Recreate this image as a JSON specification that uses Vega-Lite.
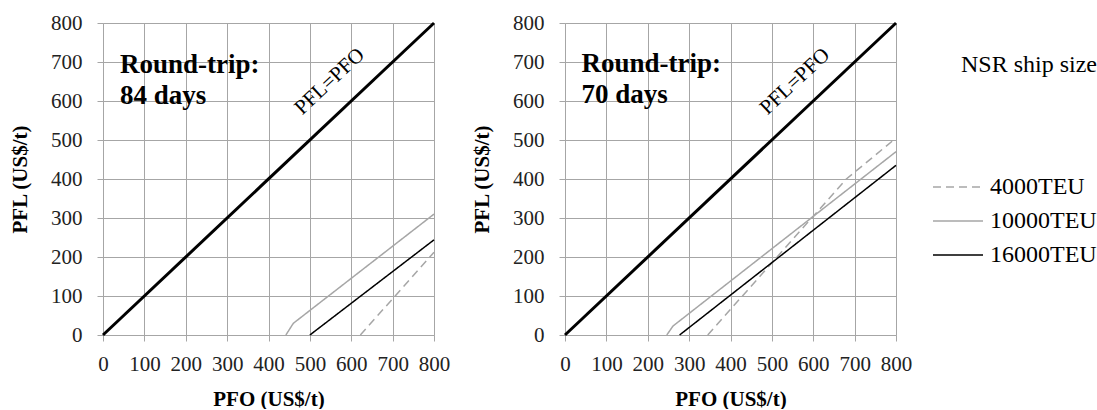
{
  "$schema": "https://vega.github.io/schema/vega-lite/v6.json",
  "padding": {"left": 9, "top": 12, "right": 0, "bottom": 0},
  "bounds": "flush",
  "spacing": 131,
  "config": {
    "font": "Liberation Serif",
    "view": {"stroke": null},
    "axis": {
      "labelFont": "Liberation Serif", "labelFontSize": 21, "labelColor": "#222222",
      "titleFont": "Liberation Serif", "titleFontSize": 21, "titleFontWeight": "bold", "titleColor": "#000000",
      "gridColor": "#a6a6a6", "domainColor": "#a6a6a6", "tickColor": "#a6a6a6",
      "tickSize": 6, "gridWidth": 1, "domainWidth": 1, "labelOverlap": false
    },
    "axisX": {"labelPadding": 12, "titlePadding": 14, "labelFlush": false},
    "axisY": {"labelPadding": 15, "titlePadding": 20, "labelFlush": false},
    "legend": {
      "orient": "none", "legendX": 843, "legendY": 30,
      "titleFont": "Liberation Serif", "titleFontSize": 24, "titleFontWeight": "normal", "titleColor": "#000000",
      "titleAnchor": "end", "titlePadding": 98,
      "labelFont": "Liberation Serif", "labelFontSize": 24, "labelColor": "#000000",
      "symbolType": "M-2.5,0H2.5", "symbolSize": 400, "symbolStrokeWidth": 1.5,
      "labelOffset": 20, "rowPadding": 10
    }
  },
  "datasets": {
    "left": [
      {"size": "4000TEU", "x": 622, "y": 0},
      {"size": "4000TEU", "x": 800, "y": 212},
      {"size": "10000TEU", "x": 442, "y": 0},
      {"size": "10000TEU", "x": 460, "y": 30},
      {"size": "10000TEU", "x": 800, "y": 310},
      {"size": "16000TEU", "x": 500, "y": 0},
      {"size": "16000TEU", "x": 800, "y": 244}
    ],
    "right": [
      {"size": "4000TEU", "x": 345, "y": 0},
      {"size": "4000TEU", "x": 680, "y": 400},
      {"size": "4000TEU", "x": 800, "y": 505},
      {"size": "10000TEU", "x": 246, "y": 0},
      {"size": "10000TEU", "x": 261, "y": 23},
      {"size": "10000TEU", "x": 800, "y": 470},
      {"size": "16000TEU", "x": 277, "y": 0},
      {"size": "16000TEU", "x": 800, "y": 435}
    ],
    "diag": [{"x": 0, "y": 0}, {"x": 800, "y": 800}],
    "one": [{"k": 1}]
  },
  "hconcat": [
    {
      "width": 331, "height": 312,
      "layer": [
        {
          "encoding": {
            "x": {"field": "x", "type": "quantitative", "title": "PFO (US$/t)", "scale": {"domain": [0, 800], "nice": false}, "axis": {"values": [0, 100, 200, 300, 400, 500, 600, 700, 800], "tickCount": 9}},
            "y": {"field": "y", "type": "quantitative", "title": "PFL (US$/t)", "scale": {"domain": [0, 800], "nice": false}, "axis": {"values": [0, 100, 200, 300, 400, 500, 600, 700, 800], "tickCount": 9}}
          },
          "layer": [
            {
              "data": {"name": "left"},
              "mark": {"type": "line", "strokeWidth": 1.5},
              "encoding": {
                "color": {"field": "size", "type": "nominal", "title": "NSR ship size", "scale": {"domain": ["4000TEU", "10000TEU", "16000TEU"], "range": ["#a6a6a6", "#a6a6a6", "#000000"]}},
                "strokeDash": {"field": "size", "type": "nominal", "title": "NSR ship size", "scale": {"domain": ["4000TEU", "10000TEU", "16000TEU"], "range": [[8, 5], [1, 0], [1, 0]]}}
              }
            },
            {
              "data": {"name": "diag"},
              "mark": {"type": "line", "strokeWidth": 3, "color": "#000000"}
            }
          ]
        },
        {
          "data": {"name": "one"},
          "mark": {"type": "text", "text": ["Round-trip:", "84 days"], "align": "left", "baseline": "alphabetic", "fontSize": 27, "fontWeight": "bold", "lineHeight": 31, "color": "#000000"},
          "encoding": {
            "x": {"datum": 41, "type": "quantitative", "title": "PFO (US$/t)", "scale": {"domain": [0, 800], "nice": false}, "axis": {"values": [0, 100, 200, 300, 400, 500, 600, 700, 800], "tickCount": 9}},
            "y": {"datum": 672, "type": "quantitative", "title": "PFL (US$/t)", "scale": {"domain": [0, 800], "nice": false}, "axis": {"values": [0, 100, 200, 300, 400, 500, 600, 700, 800], "tickCount": 9}}
          }
        },
        {
          "data": {"name": "one"},
          "mark": {"type": "text", "text": "PFL=PFO", "align": "center", "baseline": "middle", "fontSize": 21, "angle": -43, "color": "#000000"},
          "encoding": {
            "x": {"datum": 548, "type": "quantitative", "title": "PFO (US$/t)", "scale": {"domain": [0, 800], "nice": false}, "axis": {"values": [0, 100, 200, 300, 400, 500, 600, 700, 800], "tickCount": 9}},
            "y": {"datum": 650, "type": "quantitative", "title": "PFL (US$/t)", "scale": {"domain": [0, 800], "nice": false}, "axis": {"values": [0, 100, 200, 300, 400, 500, 600, 700, 800], "tickCount": 9}}
          }
        }
      ]
    },
    {
      "width": 331, "height": 312,
      "layer": [
        {
          "encoding": {
            "x": {"field": "x", "type": "quantitative", "title": "PFO (US$/t)", "scale": {"domain": [0, 800], "nice": false}, "axis": {"values": [0, 100, 200, 300, 400, 500, 600, 700, 800], "tickCount": 9}},
            "y": {"field": "y", "type": "quantitative", "title": "PFL (US$/t)", "scale": {"domain": [0, 800], "nice": false}, "axis": {"values": [0, 100, 200, 300, 400, 500, 600, 700, 800], "tickCount": 9}}
          },
          "layer": [
            {
              "data": {"name": "right"},
              "mark": {"type": "line", "strokeWidth": 1.5},
              "encoding": {
                "color": {"field": "size", "type": "nominal", "title": "NSR ship size", "scale": {"domain": ["4000TEU", "10000TEU", "16000TEU"], "range": ["#a6a6a6", "#a6a6a6", "#000000"]}},
                "strokeDash": {"field": "size", "type": "nominal", "title": "NSR ship size", "scale": {"domain": ["4000TEU", "10000TEU", "16000TEU"], "range": [[8, 5], [1, 0], [1, 0]]}}
              }
            },
            {
              "data": {"name": "diag"},
              "mark": {"type": "line", "strokeWidth": 3, "color": "#000000"}
            }
          ]
        },
        {
          "data": {"name": "one"},
          "mark": {"type": "text", "text": ["Round-trip:", "70 days"], "align": "left", "baseline": "alphabetic", "fontSize": 27, "fontWeight": "bold", "lineHeight": 31, "color": "#000000"},
          "encoding": {
            "x": {"datum": 40, "type": "quantitative", "title": "PFO (US$/t)", "scale": {"domain": [0, 800], "nice": false}, "axis": {"values": [0, 100, 200, 300, 400, 500, 600, 700, 800], "tickCount": 9}},
            "y": {"datum": 674, "type": "quantitative", "title": "PFL (US$/t)", "scale": {"domain": [0, 800], "nice": false}, "axis": {"values": [0, 100, 200, 300, 400, 500, 600, 700, 800], "tickCount": 9}}
          }
        },
        {
          "data": {"name": "one"},
          "mark": {"type": "text", "text": "PFL=PFO", "align": "center", "baseline": "middle", "fontSize": 21, "angle": -43, "color": "#000000"},
          "encoding": {
            "x": {"datum": 556, "type": "quantitative", "title": "PFO (US$/t)", "scale": {"domain": [0, 800], "nice": false}, "axis": {"values": [0, 100, 200, 300, 400, 500, 600, 700, 800], "tickCount": 9}},
            "y": {"datum": 650, "type": "quantitative", "title": "PFL (US$/t)", "scale": {"domain": [0, 800], "nice": false}, "axis": {"values": [0, 100, 200, 300, 400, 500, 600, 700, 800], "tickCount": 9}}
          }
        }
      ]
    }
  ],
  "resolve": {"legend": {"color": "shared", "strokeDash": "shared"}}
}
